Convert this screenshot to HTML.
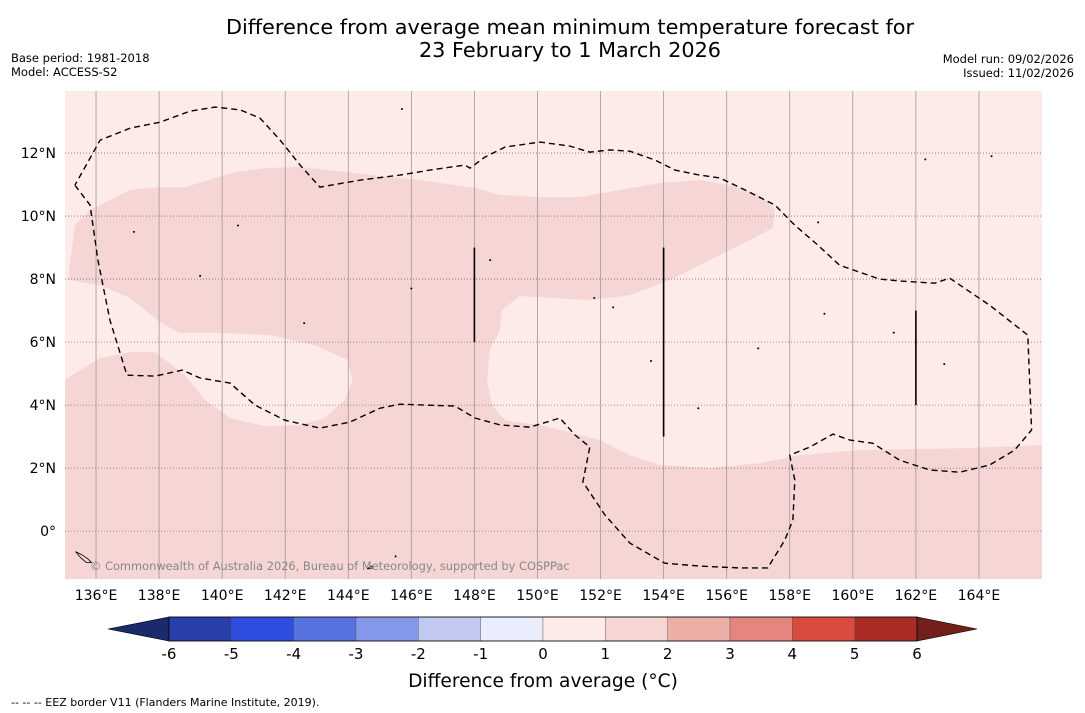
<!DOCTYPE html>
<html><head><meta charset="utf-8"><style>
body{margin:0;background:#fff;font-family:"Liberation Sans","DejaVu Sans",sans-serif}
svg{display:block}
</style></head><body>
<svg id="c" width="1085" height="713" xmlns="http://www.w3.org/2000/svg" font-family="DejaVu Sans, Liberation Sans, sans-serif">
<rect width="1085" height="713" fill="#fff"/>
<text x="570" y="34" text-anchor="middle" font-size="20.8">Difference from average mean minimum temperature forecast for</text>
<text x="570" y="57" text-anchor="middle" font-size="20.8">23 February to 1 March 2026</text>
<text x="11" y="62" font-size="11.5">Base period: 1981-2018</text>
<text x="11" y="76" font-size="11.5">Model: ACCESS-S2</text>
<text x="1074" y="63" font-size="11.5" text-anchor="end">Model run: 09/02/2026</text>
<text x="1074" y="77" font-size="11.5" text-anchor="end">Issued: 11/02/2026</text>
<g id="map"></g>
<g id="cb"></g>
<text x="543" y="687" text-anchor="middle" font-size="18.6">Difference from average (°C)</text>
<text x="11" y="706" font-size="11">--  --  -- EEZ border V11 (Flanders Marine Institute, 2019).</text>
</svg>
<script>
const lonTicks=[136,138,140,142,144,146,148,150,152,154,156,158,160,162,164];
const latTicks=[0,2,4,6,8,10,12];
const cbLevels=[-6,-5,-4,-3,-2,-1,0,1,2,3,4,5,6];
const cbColors=["#283ea8","#2f4ddf","#5672e1","#8497e8","#c1c8f2","#eaedfb","#fcebe9","#f5d6d4","#edaea8","#e6857e","#d94a40","#a92b23"];
const cbLow="#1a2a6c", cbHigh="#73201a";
const region12=[[135.11,7.97],[135.33,9.71],[135.81,10.19],[137.08,10.83],[138.03,10.92],[138.82,10.92],[140.41,11.40],[141.36,11.52],[142.47,11.56],[143.89,11.40],[146.27,11.14],[148.02,10.89],[148.81,10.67],[150.08,10.60],[151.35,10.60],[152.61,10.83],[153.88,11.05],[155.15,11.14],[156.10,10.98],[157.05,10.67],[157.53,10.19],[157.46,9.62],[156.42,9.08],[155.47,8.60],[154.20,7.97],[152.93,7.49],[151.66,7.33],[150.55,7.40],[149.44,7.46],[148.87,7.02],[148.81,6.38],[148.49,5.75],[148.40,4.79],[148.56,4.0],[148.97,3.52],[150.08,3.37],[151.98,2.89],[152.93,2.41],[153.88,2.10],[155.47,2.0],[157.05,2.16],[158.32,2.41],[160.22,2.57],[163.39,2.63],[166,2.73],[166,-1.6],[135,-1.6],[135,4.79],[135.5,5.11],[136.13,5.49],[137.08,5.68],[137.87,5.68],[138.82,4.95],[139.46,4.16],[140.25,3.59],[141.36,3.33],[142.47,3.37],[143.26,3.59],[143.89,4.16],[144.14,4.79],[143.98,5.43],[142.94,5.90],[141.52,6.22],[140.09,6.29],[138.66,6.29],[138.03,6.63],[137.08,7.40],[136.13,7.81]];
const eez=[[135.33,10.98],[135.81,10.35],[136.06,8.60],[136.44,6.70],[136.98,4.95],[137.87,4.92],[138.73,5.11],[139.30,4.86],[140.25,4.70],[141.04,4.0],[141.99,3.52],[143.10,3.27],[144.05,3.46],[145.00,3.90],[145.64,4.03],[146.43,4.0],[147.38,3.97],[148.02,3.59],[148.81,3.37],[149.76,3.30],[150.71,3.59],[151.19,3.05],[151.66,2.67],[151.44,1.56],[152.14,0.51],[152.93,-0.38],[154.04,-1.02],[155.15,-1.11],[156.42,-1.17],[157.30,-1.17],[157.84,-0.29],[158.10,0.35],[158.16,1.62],[158.0,2.41],[158.64,2.67],[159.37,3.08],[159.91,2.89],[160.63,2.79],[161.49,2.25],[162.44,1.94],[163.39,1.87],[164.34,2.10],[165.13,2.57],[165.67,3.21],[165.55,6.22],[164.34,7.17],[163.07,8.03],[162.60,7.87],[161.49,7.94],[160.85,8.0],[159.58,8.44],[158.89,9.08],[158.16,9.71],[157.53,10.35],[156.58,10.83],[155.78,11.21],[155.15,11.30],[154.36,11.46],[153.72,11.78],[152.93,12.06],[152.30,12.10],[151.66,12.03],[151.03,12.22],[150.08,12.35],[148.97,12.19],[148.33,11.87],[147.86,11.52],[147.70,11.62],[146.59,11.46],[145.64,11.30],[144.37,11.14],[143.10,10.92],[142.47,11.62],[141.84,12.41],[141.20,13.11],[140.57,13.37],[139.78,13.46],[138.98,13.33],[138.03,12.98],[137.08,12.79],[136.13,12.41],[135.33,10.98]];
const vLines=[[148,9,6],[154,9,3],[162,7,4]];
const islands=[[148.5,8.6],[146,7.7],[142.6,6.6],[139.3,8.1],[140.5,9.7],[137.2,9.5],[159.1,6.9],[162.9,5.3],[151.8,7.4],[153.6,5.4],[152.4,7.1],[155.1,3.9],[164.4,11.9],[162.3,11.8],[158.9,9.8],[157.0,5.8],[161.3,6.3],[145.5,-0.8],[145.7,13.4]];
const NS="http://www.w3.org/2000/svg";
const X0=64.5,X1=1042,Y0=91,Y1=579,LON0=135,LON1=166,LAT0=-1.52,LAT1=13.97;
const xs=l=>X0+(l-LON0)/(LON1-LON0)*(X1-X0);
const ys=l=>Y1-(l-LAT0)/(LAT1-LAT0)*(Y1-Y0);
function mk(t,a,p){const e=document.createElementNS(NS,t);for(const k in a)e.setAttribute(k,a[k]);(p||map).appendChild(e);return e;}
const map=document.getElementById('map');
const clip=mk('clipPath',{id:'cl'});mk('rect',{x:65,y:Y0,width:X1-65,height:Y1-Y0},clip);
const bg=mk('rect',{x:65,y:Y0,width:X1-65,height:Y1-Y0,fill:'#fcebe9'});


const g=mk('g',{'clip-path':'url(#cl)'});
const r=mk('polygon',{points:region12.map(p=>xs(p[0])+','+ys(p[1])).join(' '),fill:'#f5d6d4'},g);


lonTicks.forEach(l=>{const ln=mk('line',{x1:xs(l),x2:xs(l),y1:Y0,y2:Y1,stroke:'#a09898','stroke-width':0.8},g);


const t=mk('text',{x:xs(l),y:600,'text-anchor':'middle','font-size':14});t.textContent=l+'°E';

});
latTicks.forEach(l=>{const ln=mk('line',{x1:65,x2:X1,y1:ys(l),y2:ys(l),stroke:'#7a7070','stroke-width':0.8,'stroke-dasharray':'1,2'},g);


const t=mk('text',{x:56,y:ys(l)+5,'text-anchor':'end','font-size':14});t.textContent=l===0?'0°':l+'°N';

});
const ez=mk('polyline',{points:eez.map(p=>xs(p[0])+','+ys(p[1])).join(' '),fill:'none',stroke:'#000','stroke-width':1.4,'stroke-dasharray':'6,4'},g);


vLines.forEach(v=>{const ln=mk('line',{x1:xs(v[0]),x2:xs(v[0]),y1:ys(v[1]),y2:ys(v[2]),stroke:'#000','stroke-width':1.6},g);

});
islands.forEach(p=>{const c=mk('circle',{cx:xs(p[0]),cy:ys(p[1]),r:1,fill:'#000'},g);

});
const isl=mk('path',{d:`M${xs(135.35)},${ys(-0.65)} l6,3 l6,4 l4,4 l-5,0 l-6,-5 z M${xs(144.6)},${ys(-1.2)} l4,-3 l2,2 z`,fill:'none',stroke:'#000','stroke-width':0.8},g);


const wm=mk('text',{x:90,y:570,'font-size':11.4,fill:'#888'},g);wm.textContent='© Commonwealth of Australia 2026, Bureau of Meteorology, supported by COSPPac';


// colorbar
const cb=document.getElementById('cb');
const CB0=169,CB1=917,CY0=617,CY1=641;
const cx=v=>CB0+(v-cbLevels[0])/(cbLevels[cbLevels.length-1]-cbLevels[0])*(CB1-CB0);
const lo=mk('polygon',{points:`108,${(CY0+CY1)/2} ${CB0},${CY0} ${CB0},${CY1}`,fill:cbLow,stroke:'#000','stroke-width':0.6},cb);


const hi=mk('polygon',{points:`977,${(CY0+CY1)/2} ${CB1},${CY0} ${CB1},${CY1}`,fill:cbHigh,stroke:'#000','stroke-width':0.6},cb);


cbColors.forEach((c,i)=>{const s=mk('rect',{x:cx(cbLevels[i]),y:CY0,width:cx(cbLevels[i+1])-cx(cbLevels[i]),height:CY1-CY0,fill:c,stroke:'#555','stroke-width':0.4},cb);

});
const fr=mk('rect',{x:CB0,y:CY0,width:CB1-CB0,height:CY1-CY0,fill:'none',stroke:'#000','stroke-width':0.8},cb);


cbLevels.forEach(v=>{const t=mk('text',{x:cx(v),y:659,'text-anchor':'middle','font-size':15},cb);t.textContent=v;

});
</script>
</body></html>
